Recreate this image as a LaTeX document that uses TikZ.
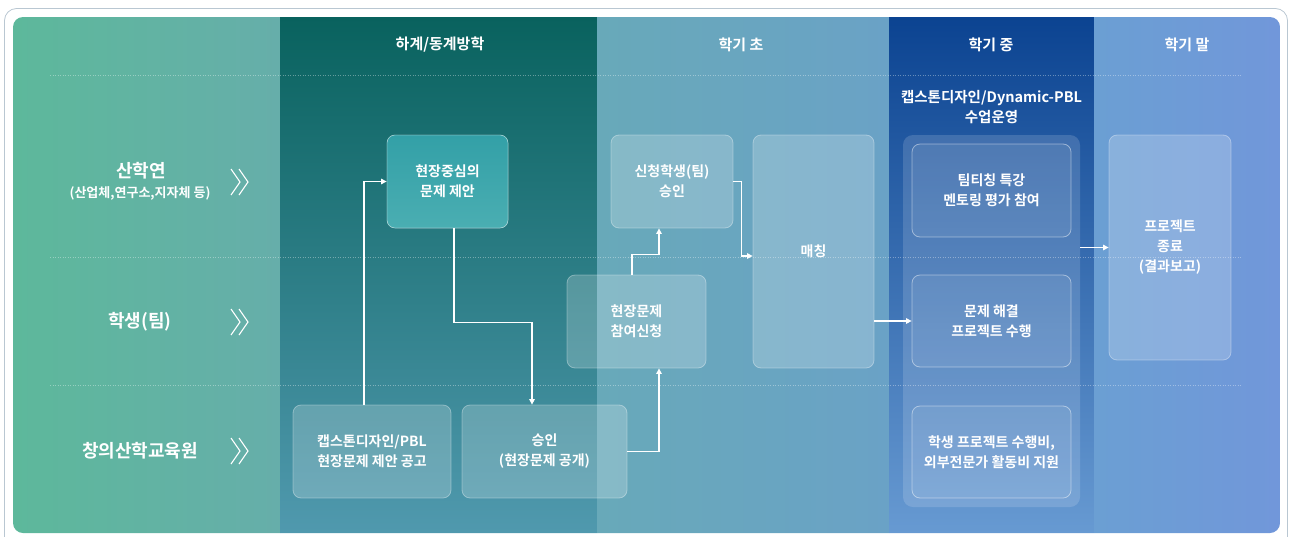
\documentclass[tikz,border=0pt]{standalone}
\usepackage{fontspec}
\setmainfont{Noto Sans CJK KR}[BoldFont={Noto Sans CJK KR Bold}]
\usetikzlibrary{arrows.meta}

\definecolor{framegray}{HTML}{B9C7D2}
\definecolor{leftA}{HTML}{5DB89B}
\definecolor{leftB}{HTML}{66AEAA}
\definecolor{breakTop}{HTML}{09625E}
\definecolor{breakBot}{HTML}{5099AE}
\definecolor{earlyA}{HTML}{68A9B9}
\definecolor{earlyB}{HTML}{6AA2C6}
\definecolor{midTop}{HTML}{0B4391}
\definecolor{midBot}{HTML}{679AD2}
\definecolor{endA}{HTML}{6B9FD3}
\definecolor{endB}{HTML}{7197DA}
\definecolor{propTop}{HTML}{33A0A7}
\definecolor{propBot}{HTML}{4AAEB2}

\tikzstyle{arrow} = [white, line width=1.1pt, -{Triangle[length=5.5pt,width=5.5pt]}]
\tikzstyle{box} = [rectangle, rounded corners=8pt, draw=white, draw opacity=0.35, line width=0.8pt, fill=white, fill opacity=0.2, text opacity=1, text=white, inner sep=0pt, align=center, font=\fontsize{14}{20}\selectfont\bfseries]
\tikzstyle{inbox} = [box, fill opacity=0.07, draw opacity=0.45]
\tikzstyle{head} = [text=white, font=\fontsize{15}{17}\selectfont\bfseries]
\tikzstyle{rowlabel} = [text=white, font=\fontsize{18}{20}\selectfont\bfseries]
\tikzstyle{guide} = [white, opacity=0.35, line width=0.6pt, dash pattern=on 1pt off 1.5pt]

\begin{document}
\begin{tikzpicture}[x=1pt,y=-1pt]
    \useasboundingbox (0,0) rectangle (1292,536);
    \draw[framegray, line width=0.8pt, rounded corners=12pt] (4.5,8.5) rectangle (1287.5,560);

    % background columns
    \begin{scope}
        \clip[rounded corners=10pt] (13,17) rectangle (1280,533);
        \shade[left color=leftA, right color=leftB] (13,17) rectangle (280,533);
        \shade[top color=breakTop, bottom color=breakBot] (280,17) rectangle (597,533);
        \shade[left color=earlyA, right color=earlyB] (597,17) rectangle (889,533);
        \shade[top color=midTop, bottom color=midBot] (889,17) rectangle (1094,533);
        \shade[left color=endA, right color=endB] (1094,17) rectangle (1280,533);
    \end{scope}

    \draw[guide] (50,75) -- (1242,75);
    \draw[guide] (50,257) -- (1242,257);
    \draw[guide] (50,385) -- (1242,385);

    % headers
    \node[head] (hbreak) at (440,45) {하계/동계방학};
    \node[head] (hearly) at (741,45) {학기 초};
    \node[head] (hmid) at (991,45) {학기 중};
    \node[head] (hend) at (1187,45) {학기 말};

    % rows
    \node[rowlabel] (rindustry) at (141,171) {산학연};
    \node[text=white, font=\fontsize{13}{14}\selectfont\bfseries] (rindustrysub) at (140,193) {(산업체,연구소,지자체 등)};
    \node[rowlabel] (rstudent) at (140,322) {학생(팀)};
    \node[rowlabel] (rcenter) at (140,451) {창의산학교육원};
    \foreach \r in {182,322,451}
        \draw[white, line width=1.1pt] (231,\r-13) -- (240,\r) -- (231,\r+13) (239,\r-13) -- (248,\r) -- (239,\r+13);

    % boxes
    \node[box, top color=propTop, bottom color=propBot, fill opacity=1, minimum width=121pt, minimum height=93pt] (propose) at (447.5,181.5) {현장중심의\\문제 제안};
    \node[box, minimum width=158pt, minimum height=93pt] (notice) at (372,451.5) {캡스톤디자인/PBL\\현장문제 제안 공고};
    \node[box, minimum width=165pt, minimum height=93pt] (approve) at (544.5,451.5) {승인\\(현장문제 공개)};
    \node[box, minimum width=139pt, minimum height=93pt] (apply) at (636.5,321.5) {현장문제\\참여신청};
    \node[box, minimum width=122pt, minimum height=93pt] (teamok) at (672,181.5) {신청학생(팀)\\승인};
    \node[box, minimum width=121pt, minimum height=233pt] (match) at (813.5,251.5) {매칭};

    \node[text=white, align=center, font=\fontsize{14.5}{20}\selectfont\bfseries] (course) at (991.5,107) {캡스톤디자인/Dynamic-PBL\\수업운영};
    \node[box, draw=none, fill opacity=0.15, minimum width=177pt, minimum height=372pt, rounded corners=10pt] (running) at (991.5,321) {};
    \node[inbox, minimum width=159pt, minimum height=93pt] (teach) at (991.5,190.5) {팀티칭 특강\\멘토링 평가 참여};
    \node[inbox, minimum width=159pt, minimum height=92pt] (solve) at (991.5,321) {문제 해결\\프로젝트 수행};
    \node[inbox, minimum width=159pt, minimum height=92pt] (fund) at (991.5,452) {학생 프로젝트 수행비,\\외부전문가 활동비 지원};

    \node[box, minimum width=122pt, minimum height=225pt] (finish) at (1170,247.5) {프로젝트\\종료\\(결과보고)};

    % flow
    \draw[arrow] ([xshift=-8pt]notice.north) |- (propose.west);
    \draw[arrow] ([xshift=6.5pt]propose.south) -- ++(0,94) -| ([xshift=-12.5pt]approve.north);
    \draw[arrow] (approve.east) -| ([xshift=22.5pt]apply.south);
    \draw[arrow] ([xshift=-4.5pt]apply.north) -- ++(0,-20) -| ([xshift=-13pt]teamok.south);
    \draw[arrow] (teamok.east) -- ++(8,0) |- ([yshift=-4.5pt]match.west);
    \draw[arrow] (match.east |- solve.west) -- (solve.west);
    \draw[arrow] (running.east |- finish.west) -- (finish.west);
\end{tikzpicture}
\end{document}
